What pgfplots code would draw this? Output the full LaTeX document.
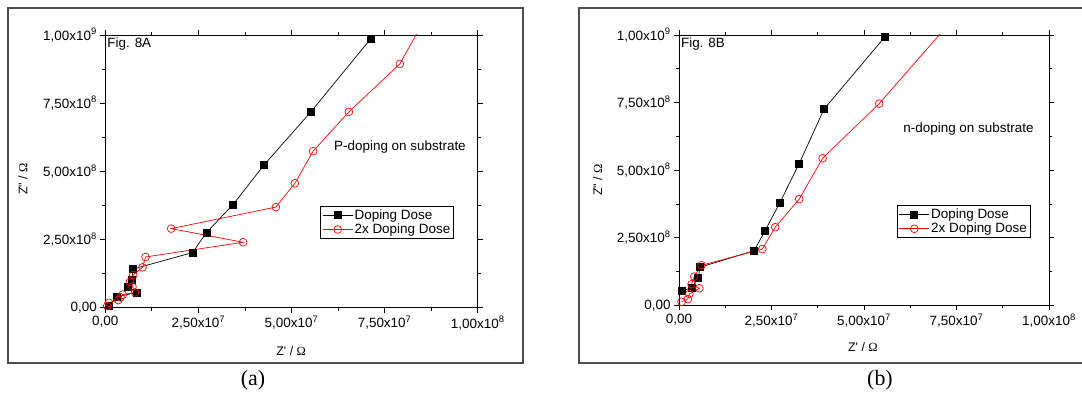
\documentclass[border=0pt]{standalone}
\usepackage{pgfplots}
\pgfplotsset{compat=1.18}
\usepackage{fontspec}
\setmainfont{Liberation Sans}
\newfontfamily\timesfont{Liberation Serif}
\newcommand{\fs}{\fontsize{13.5}{16}\selectfont}

\pgfplotsset{
 panel/.style={
  scale only axis, anchor=south west,
  xmin=0, xmax=1e8, ymin=0, ymax=1e9,
  xtick={0,2.5e7,5e7,7.5e7,1e8},
  xticklabels={{0,00},{2,50x10\textsuperscript{7}},{5,00x10\textsuperscript{7}},{7,50x10\textsuperscript{7}},{1,00x10\textsuperscript{8}}},
  ytick={0,2.5e8,5e8,7.5e8,1e9},
  yticklabels={{0,00},{2,50x10\textsuperscript{8}},{5,00x10\textsuperscript{8}},{7,50x10\textsuperscript{8}},{1,00x10\textsuperscript{9}}},
  scaled x ticks=false, scaled y ticks=false,
  minor tick num=1,
  tick align=outside,
  major tick length=5bp, minor tick length=3bp,
  tick style={black, line width=0.8bp},
  axis line style={line width=0.9bp},
  tick label style={font=\fs},
  label style={font=\fontsize{12.5}{14}\selectfont},
  legend style={font=\fs, draw=black, line width=0.8bp, fill=white, inner xsep=2bp, inner ysep=2bp, nodes={inner sep=1.5bp}},
  legend image code/.code={\draw[mark repeat=2,mark phase=2] plot coordinates {(0bp,0bp) (15bp,0bp) (30bp,0bp)};},
  legend cell align=left,
 },
 blk/.style={black, line width=0.7bp, mark=square*, mark size=3.5bp, mark options={solid, fill=black}},
 rd/.style={red, line width=0.7bp, mark=o, mark size=3.9bp, mark options={solid, fill=white}},
}

\begin{document}
\begin{tikzpicture}[x=1bp,y=1bp]
\useasboundingbox (0,0) rectangle (1082,394);
\draw[black!70, line width=1.2bp] (8,31) rectangle (523,386);
\draw[black!70, line width=1.2bp] (579,31) rectangle (1090,386);
\node[font=\timesfont\fontsize{22}{24}\selectfont] at (253,14) {(a)};
\node[font=\timesfont\fontsize{22}{24}\selectfont] at (880,14) {(b)};

\begin{axis}[panel, at={(105.3bp,86.3bp)}, width=372.4bp, height=272.7bp,
  xlabel={Z\textquotesingle{} / {\timesfont Ω}},
  ylabel={Z\textquotedbl{} / {\timesfont Ω}},
  x label style={at={(axis description cs:0.499,-0.158)}, anchor=center},
  y label style={at={(axis description cs:-0.221,0.472)}, anchor=center},
  legend style={at={(0.5765,0.374)}, anchor=north west}]
\addplot[blk] coordinates {
 (9.1e5,6e6) (3.06e6,4.0e7) (8.6e6,5.6e7) (6.0e6,7.7e7) (7.1e6,1.02e8)
 (7.5e6,1.42e8) (2.34e7,2.02e8) (2.72e7,2.76e8) (3.43e7,3.78e8)
 (4.26e7,5.23e8) (5.52e7,7.18e8) (7.12e7,9.85e8)};
\addlegendentry{Doping Dose}
\addplot[rd] coordinates {
 (5e5,6e6) (1.0e6,1.8e7) (3.5e6,2.8e7) (4.1e6,3.8e7) (4.7e6,4.8e7)
 (8.0e6,5.6e7) (7.3e6,7.7e7) (6.6e6,9.5e7) (7.5e6,1.20e8) (1.00e7,1.48e8)
 (1.08e7,1.86e8) (3.70e7,2.40e8) (1.77e7,2.90e8) (4.58e7,3.69e8)
 (5.09e7,4.56e8) (5.58e7,5.74e8) (6.54e7,7.18e8) (7.91e7,8.94e8) (8.75e7,1.1e9)};
\addlegendentry{2x Doping Dose}
\node[anchor=west, inner sep=0, font=\fs] at (rel axis cs:0.005,0.967) {Fig. 8A};
\node[anchor=west, inner sep=0, font=\fs] at (rel axis cs:0.614,0.590) {P-doping on substrate};
\end{axis}

\begin{axis}[panel, at={(679bp,88.7bp)}, width=370bp, height=270.3bp,
  xlabel={Z\textquotesingle{} / {\timesfont Ω}},
  ylabel={Z\textquotedbl{} / {\timesfont Ω}},
  x label style={at={(axis description cs:0.497,-0.155)}, anchor=center},
  y label style={at={(axis description cs:-0.220,0.464)}, anchor=center},
  legend style={at={(0.588,0.371)}, anchor=north west}]
\addplot[blk] coordinates {
 (8.9e5,5.4e7) (3.5e6,6.5e7) (5.2e6,1.02e8) (5.7e6,1.41e8) (2.03e7,2.02e8)
 (2.33e7,2.77e8) (2.72e7,3.78e8) (3.25e7,5.25e8) (3.92e7,7.26e8) (5.57e7,9.94e8)};
\addlegendentry{Doping Dose}
\addplot[rd] coordinates {
 (7e5,1.3e7) (2.4e6,2.3e7) (2.8e6,4.2e7) (5.5e6,6.3e7) (3.4e6,7.8e7)
 (4.1e6,1.06e8) (6.1e6,1.48e8) (2.25e7,2.08e8) (2.60e7,2.89e8) (3.25e7,3.93e8)
 (3.88e7,5.44e8) (5.41e7,7.46e8) (7.67e7,1.1e9)};
\addlegendentry{2x Doping Dose}
\node[anchor=west, inner sep=0, font=\fs] at (rel axis cs:0.005,0.967) {Fig. 8B};
\node[anchor=west, inner sep=0, font=\fs] at (rel axis cs:0.606,0.651) {n-doping on substrate};
\end{axis}
\end{tikzpicture}
\end{document}
